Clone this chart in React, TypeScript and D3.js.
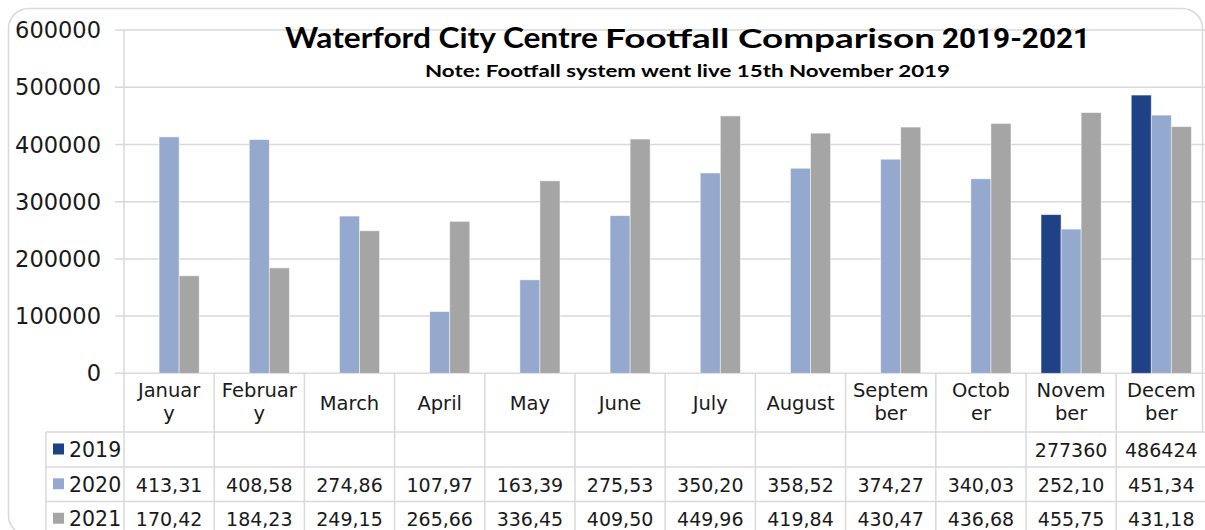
import React from "react";
import * as d3 from "d3";

const months = ["January","February","March","April","May","June","July","August","September","October","November","December"];
const monthLabelLines = [["Januar","y"],["Februar","y"],["March"],["April"],["May"],["June"],["July"],["August"],["Septem","ber"],["Octob","er"],["Novem","ber"],["Decem","ber"]];
const years = ["2019","2020","2021"];
const values2019: (number | null)[] = [null,null,null,null,null,null,null,null,null,null,277360,486424];
const values2020: number[] = [413310,408580,274860,107970,163390,275530,350200,358520,374270,340030,252100,451340];
const values2021: number[] = [170420,184230,249150,265660,336450,409500,449960,419840,430470,436680,455750,431180];
const yTicks = [0,100000,200000,300000,400000,500000,600000];
const colors = ["#1f4287","#95a9ce","#a5a5a5"];

const series = [values2019, values2020, values2021];

const W = 1205, H = 530;
const FONT = "'DejaVu Sans', sans-serif";
const TITLE_FONT = "Lato, 'Open Sans', sans-serif";

function fmtCell(v: number | null, yi: number): string {
  if (v == null) return "";
  if (yi === 0) return String(v);
  return d3.format(",")(v).slice(0, 6);
}

export default function App() {
  const y = d3.scaleLinear().domain([0, 600000]).range([373.3, 30.1]);
  const x0 = d3.scaleBand<string>().domain(months).range([124, 124 + 12 * 90.2]);
  const x1 = d3.scaleBand<string>().domain(years).range([0, x0.bandwidth()]).paddingInner(0).paddingOuter(0.75);
  const rowTops = [432, 467, 501.5, 536];
  const tableLeft = 46;
  const right = x0.range()[1];

  return (
    <div style={{ position: "absolute", left: 0, top: 0 }}>
      <svg width={W} height={H} style={{ display: "block", fontFamily: FONT }}>
        <rect x={0} y={0} width={W} height={H} fill="#fff" />
        {/* outer border */}
        <rect x={8.5} y={8.5} width={1194} height={527} rx={20} ry={20} fill="none" stroke="#d9d9d9" strokeWidth={1.5} />
        {/* table background covering border */}
        <rect x={tableLeft} y={rowTops[0]} width={right - tableLeft} height={H - rowTops[0]} fill="#fff" />
        {/* gridlines */}
        {yTicks.map((t) => (
          <line key={t} x1={115} x2={right} y1={y(t)} y2={y(t)} stroke="#d9d9d9" strokeWidth={1.5} />
        ))}
        {yTicks.map((t) => (
          <text key={"l" + t} x={101} y={y(t) + 8} textAnchor="end" fontSize={22.5} fill="#1a1a1a">{t}</text>
        ))}
        {/* bars */}
        {months.map((m, mi) => (
          <g key={m} transform={`translate(${x0(m)},0)`}>
            {series.map((s, yi) => {
              const v = s[mi];
              if (v == null) return null;
              return (
                <rect key={yi} x={x1(years[yi])} y={y(v)} width={x1.bandwidth()} height={y(0) - y(v)}
                  fill={colors[yi]} stroke="#ffffff" strokeOpacity={0.6} strokeWidth={0.8} />
              );
            })}
          </g>
        ))}
        {/* axis line vertical */}
        <line x1={124} x2={124} y1={y(600000)} y2={H} stroke="#d9d9d9" strokeWidth={1.5} />
        {/* table lines */}
        {months.map((m) => (
          <line key={"v" + m} x1={(x0(m) as number) + x0.bandwidth()} x2={(x0(m) as number) + x0.bandwidth()} y1={y(0)} y2={H} stroke="#d9d9d9" strokeWidth={1.5} />
        ))}
        <line x1={tableLeft} x2={tableLeft} y1={rowTops[0]} y2={H} stroke="#d9d9d9" strokeWidth={1.5} />
        {rowTops.map((r) => (
          <line key={"h" + r} x1={tableLeft} x2={right} y1={r} y2={r} stroke="#d9d9d9" strokeWidth={1.5} />
        ))}
        {/* month labels */}
        {months.map((m, mi) => {
          const cx = (x0(m) as number) + x0.bandwidth() / 2;
          const lines = monthLabelLines[mi];
          const base = lines.length === 1 ? 410 : 397;
          return (
            <text key={"m" + m} x={cx} textAnchor="middle" fontSize={19.5} fill="#1a1a1a">
              {lines.map((ln, li) => (
                <tspan key={li} x={cx} y={base + li * 22.5}>{ln}</tspan>
              ))}
            </text>
          );
        })}
        {/* legend + cells */}
        {years.map((yr, yi) => {
          const cy = (rowTops[yi] + rowTops[yi + 1]) / 2;
          return (
            <g key={yr}>
              <rect x={53} y={cy - 6} width={11} height={11} fill={colors[yi]} />
              <text x={69} y={cy + 7.5} fontSize={20.5} fill="#1a1a1a">{yr}</text>
              {months.map((m, mi) => (
                <text key={m} x={(x0(m) as number) + x0.bandwidth() / 2} y={cy + 7.5} textAnchor="middle" fontSize={19} fill="#1a1a1a">
                  {fmtCell(series[yi][mi], yi)}
                </text>
              ))}
            </g>
          );
        })}
        {/* title */}
        <text x={285} y={48} fontSize={29} fontWeight="bold" fill="#000" fontFamily={TITLE_FONT} textLength={313} lengthAdjust="spacingAndGlyphs">Waterford City Centre</text>
        <text x={605} y={48} fontSize={26} fontWeight="bold" fill="#000" fontFamily={TITLE_FONT} textLength={330} lengthAdjust="spacingAndGlyphs">Footfall Comparison</text>
        <text x={942} y={48} fontSize={28} fontWeight="bold" fill="#000" fontFamily="Roboto, sans-serif" textLength={148} lengthAdjust="spacingAndGlyphs">2019-2021</text>
        <text x={425} y={77} fontSize={17} fontWeight="bold" fill="#000" fontFamily={TITLE_FONT} textLength={525} lengthAdjust="spacingAndGlyphs">Note: Footfall system went live 15th November 2019</text>
      </svg>
    </div>
  );
}
